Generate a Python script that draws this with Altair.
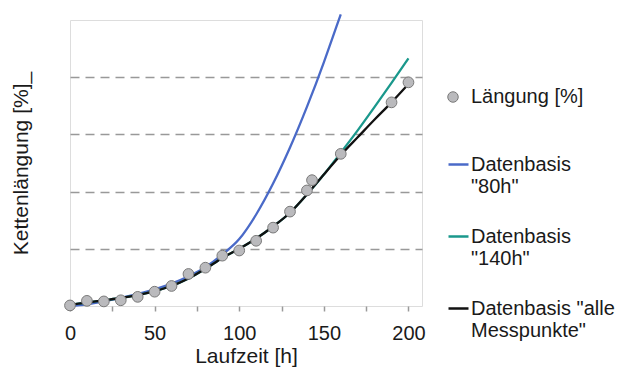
import altair as alt
import pandas as pd

# measured points
hours = [0, 10, 20, 30, 40, 50, 60, 70, 80, 90, 100, 110, 120, 130, 140, 143, 160, 190, 200]
elong = [0.01, 0.09, 0.08, 0.10, 0.16, 0.25, 0.35, 0.56, 0.67, 0.88, 0.97, 1.14, 1.37, 1.65, 2.02, 2.20, 2.66, 3.56, 3.91]

# fitted curves
x_80 = [0, 10, 20, 30, 40, 50, 60, 70, 80, 90, 100, 110, 120, 130, 140, 150, 155, 160]
fit_80 = [0.0, 0.03, 0.08, 0.14, 0.21, 0.29, 0.39, 0.52, 0.68, 0.90, 1.17, 1.60, 2.14, 2.77, 3.48, 4.26, 4.68, 5.10]

x_fit = [0, 10, 20, 30, 40, 50, 60, 70, 80, 90, 100, 110, 120, 130, 140, 150, 160, 170, 180, 190, 200]
fit_140 = [0.02, 0.06, 0.10, 0.14, 0.19, 0.26, 0.35, 0.48, 0.65, 0.84, 1.00, 1.18, 1.39, 1.63, 1.95, 2.30, 2.68, 3.07, 3.48, 3.90, 4.33]
fit_all = [0.02, 0.06, 0.10, 0.14, 0.19, 0.26, 0.35, 0.48, 0.65, 0.84, 1.00, 1.18, 1.39, 1.63, 1.95, 2.30, 2.64, 2.95, 3.26, 3.56, 3.88]

series_names = ['Datenbasis|"80h"', 'Datenbasis|"140h"', 'Datenbasis "alle|Messpunkte"']
series_colors = ["#4a6ac8", "#1a988c", "#111111"]
point_name = "Längung [%]"

rows = []
for x, y in zip(x_80, fit_80):
    rows.append({"t": x, "v": y, "model": series_names[0], "o": 0})
for x, y in zip(x_fit, fit_140):
    rows.append({"t": x, "v": y, "model": series_names[1], "o": 1})
for x, y in zip(x_fit, fit_all):
    rows.append({"t": x, "v": y, "model": series_names[2], "o": 2})
lines_df = pd.DataFrame(rows)
pts_df = pd.DataFrame({"t": hours, "v": elong, "label": [point_name] * len(hours)})

FONT = "Liberation Sans"
TXT = "#1a1a1a"

xscale = alt.Scale(domain=[0, 208], nice=False)
yscale = alt.Scale(domain=[0, 5], nice=False)

xaxis = alt.Axis(
    values=list(range(0, 201, 25)),
    labelExpr="datum.value % 50 == 0 ? datum.label : ''",
    labelFlush=False, tickSize=5, tickColor="#9a9a9a", tickWidth=1.5,
    domain=False, grid=False, labelFontSize=20, labelColor=TXT,
    labelPadding=12, labelFont=FONT,
    title="Laufzeit [h]", titleFontSize=21, titleFontWeight="normal",
    titleColor=TXT, titleFont=FONT, titlePadding=2,
)
yaxis = alt.Axis(
    values=[1, 2, 3, 4], grid=True, gridDash=[9, 6], gridColor="#999999",
    gridWidth=1.5, labels=False, ticks=False, domain=False,
    title="Kettenlängung [%]_", titleFontSize=21, titleFontWeight="normal",
    titleColor=TXT, titleFont=FONT, titlePadding=39,
)

lines = alt.Chart(lines_df).mark_line(strokeWidth=2.3, interpolate="monotone").encode(
    x=alt.X("t:Q", scale=xscale, axis=xaxis),
    y=alt.Y("v:Q", scale=yscale, axis=yaxis),
    stroke=alt.Stroke(
        "model:N",
        scale=alt.Scale(domain=series_names, range=series_colors),
        legend=alt.Legend(
            orient="none", legendX=377, legendY=133, title=None, padding=0,
            symbolType="stroke", symbolSize=400, symbolStrokeWidth=2.5,
            labelFontSize=20, labelFont=FONT, labelColor=TXT, labelOffset=1,
            labelLimit=300, labelBaseline="middle",
            rowPadding=28,
            labelExpr="split(datum.label, '|')",
        ),
    ),
    order="o:Q",
    detail="model:N",
)

points = alt.Chart(pts_df).mark_point(
    filled=True, size=115, stroke="#7a7a7a", strokeWidth=1, opacity=1
).encode(
    x=alt.X("t:Q", scale=xscale),
    y=alt.Y("v:Q", scale=yscale),
    fill=alt.Fill(
        "label:N",
        scale=alt.Scale(domain=[point_name], range=["#bababd"]),
        legend=alt.Legend(
            orient="none", legendX=373, legendY=67, title=None, padding=0,
            symbolType="circle", symbolSize=110, symbolStrokeColor="#7a7a7a",
            symbolStrokeWidth=1, labelFontSize=20, labelFont=FONT,
            labelColor=TXT, labelOffset=8, labelBaseline="middle",
        ),
    ),
)

chart = alt.layer(lines, points).properties(
    width=352, height=286,
    autosize=alt.AutoSizeParams(type="none"),
    padding={"left": 62, "top": 12, "right": 198, "bottom": 62},
).configure_view(stroke="#a6a6a6", strokeWidth=2).configure(font=FONT)

chart.save("out.html", embed_options={"renderer": "svg", "actions": False})
